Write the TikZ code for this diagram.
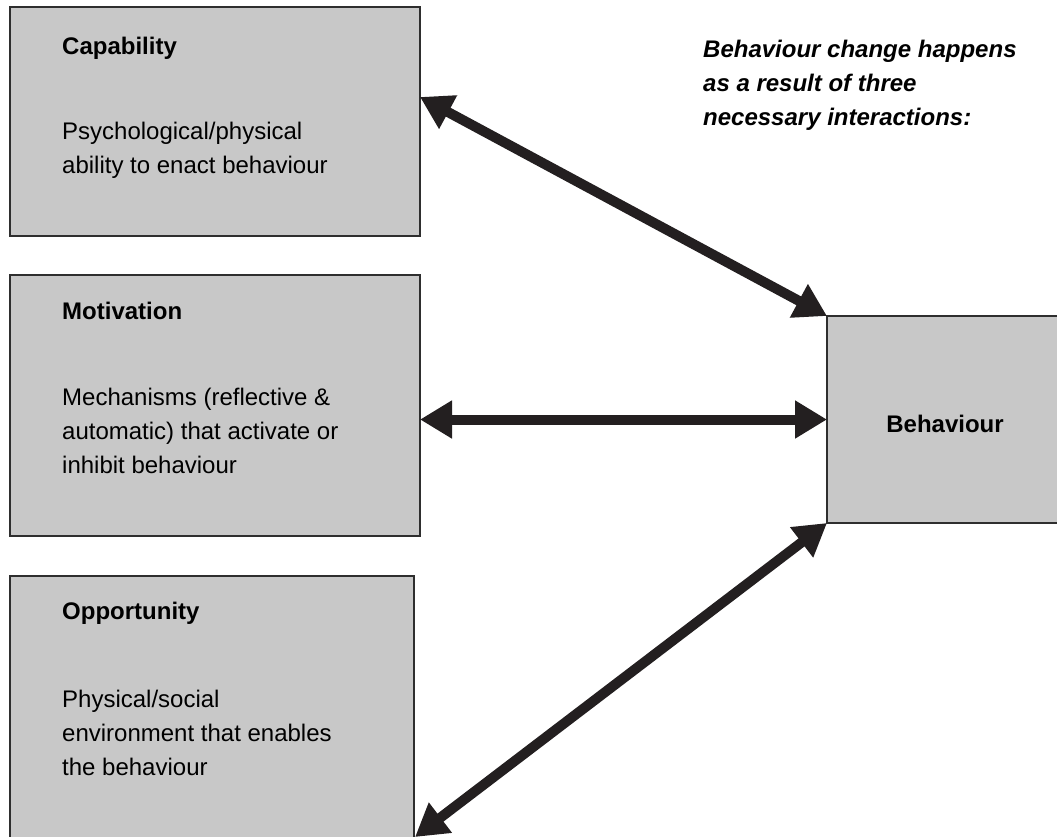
\documentclass[tikz,border=0pt]{standalone}
\usepackage{fontspec}
\setmainfont{Liberation Sans}
\usetikzlibrary{calc}
\usetikzlibrary{arrows.meta}

\definecolor{boxgray}{HTML}{C8C8C8}
\definecolor{edgegray}{HTML}{2E2E2E}
\definecolor{inkblack}{HTML}{231F20}

\tikzset{
  factor/.style={rectangle, draw=edgegray, line width=2pt, fill=boxgray,
    anchor=north west, inner sep=0pt, outer sep=0pt},
  txt/.style={anchor=base west, inner sep=0pt, font=\fontsize{24}{34}\selectfont},
  link/.style={line width=10pt, inkblack,
    {Triangle[length=32pt,width=36pt]}-{Triangle[length=32pt,width=36pt]}},
}

\begin{document}
\begin{tikzpicture}[x=1pt,y=-1pt]
    % Page size of the reference
    \useasboundingbox (0,0) rectangle (1057,836);
    \clip (0,0) rectangle (1057,836);

    % Draw the three component boxes and the behaviour box
    \node[factor, minimum width=410pt, minimum height=229pt] (cap) at (10,7) {};
    \node[factor, minimum width=410pt, minimum height=261pt] (mot) at (10,275) {};
    \node[factor, minimum width=404pt, minimum height=300pt] (opp) at (10,576) {};
    \node[factor, minimum width=240pt, minimum height=207pt] (beh) at (827,316) {};

    % Box texts
    \node[txt] (capT) at (62,54) {\textbf{Capability}};
    \node[txt] (capA) at (62,139) {Psychological/physical};
    \node[txt] (capB) at (62,173) {ability to enact behaviour};

    \node[txt] (motT) at (62,319) {\textbf{Motivation}};
    \node[txt] (motA) at (62,405) {Mechanisms (reflective \&};
    \node[txt] (motB) at (62,439) {automatic) that activate or};
    \node[txt] (motC) at (62,473) {inhibit behaviour};

    \node[txt] (oppT) at (62,619) {\textbf{Opportunity}};
    \node[txt] (oppA) at (62,707) {Physical/social};
    \node[txt] (oppB) at (62,741) {environment that enables};
    \node[txt] (oppC) at (62,775) {the behaviour};

    \node[txt, anchor=base] (behT) at (945,432) {\textbf{Behaviour}};

    % Note at the top right
    \node[txt] (noteA) at (703,57) {\textbf{\textit{Behaviour change happens}}};
    \node[txt] (noteB) at (703,91) {\textbf{\textit{as a result of three}}};
    \node[txt] (noteC) at (703,125) {\textbf{\textit{necessary interactions:}}};

    % End points of the interactions
    \coordinate (capIn) at ($(cap.north east)!0.393!(cap.south east)$);
    \coordinate (oppIn) at (415,837);

    % Draw the interactions
    \draw[link] (capIn) -- (beh.north west);
    \draw[link] (mot.east |- beh.west) -- (beh.west);
    \draw[link] (oppIn) -- (beh.south west);

\end{tikzpicture}
\end{document}
